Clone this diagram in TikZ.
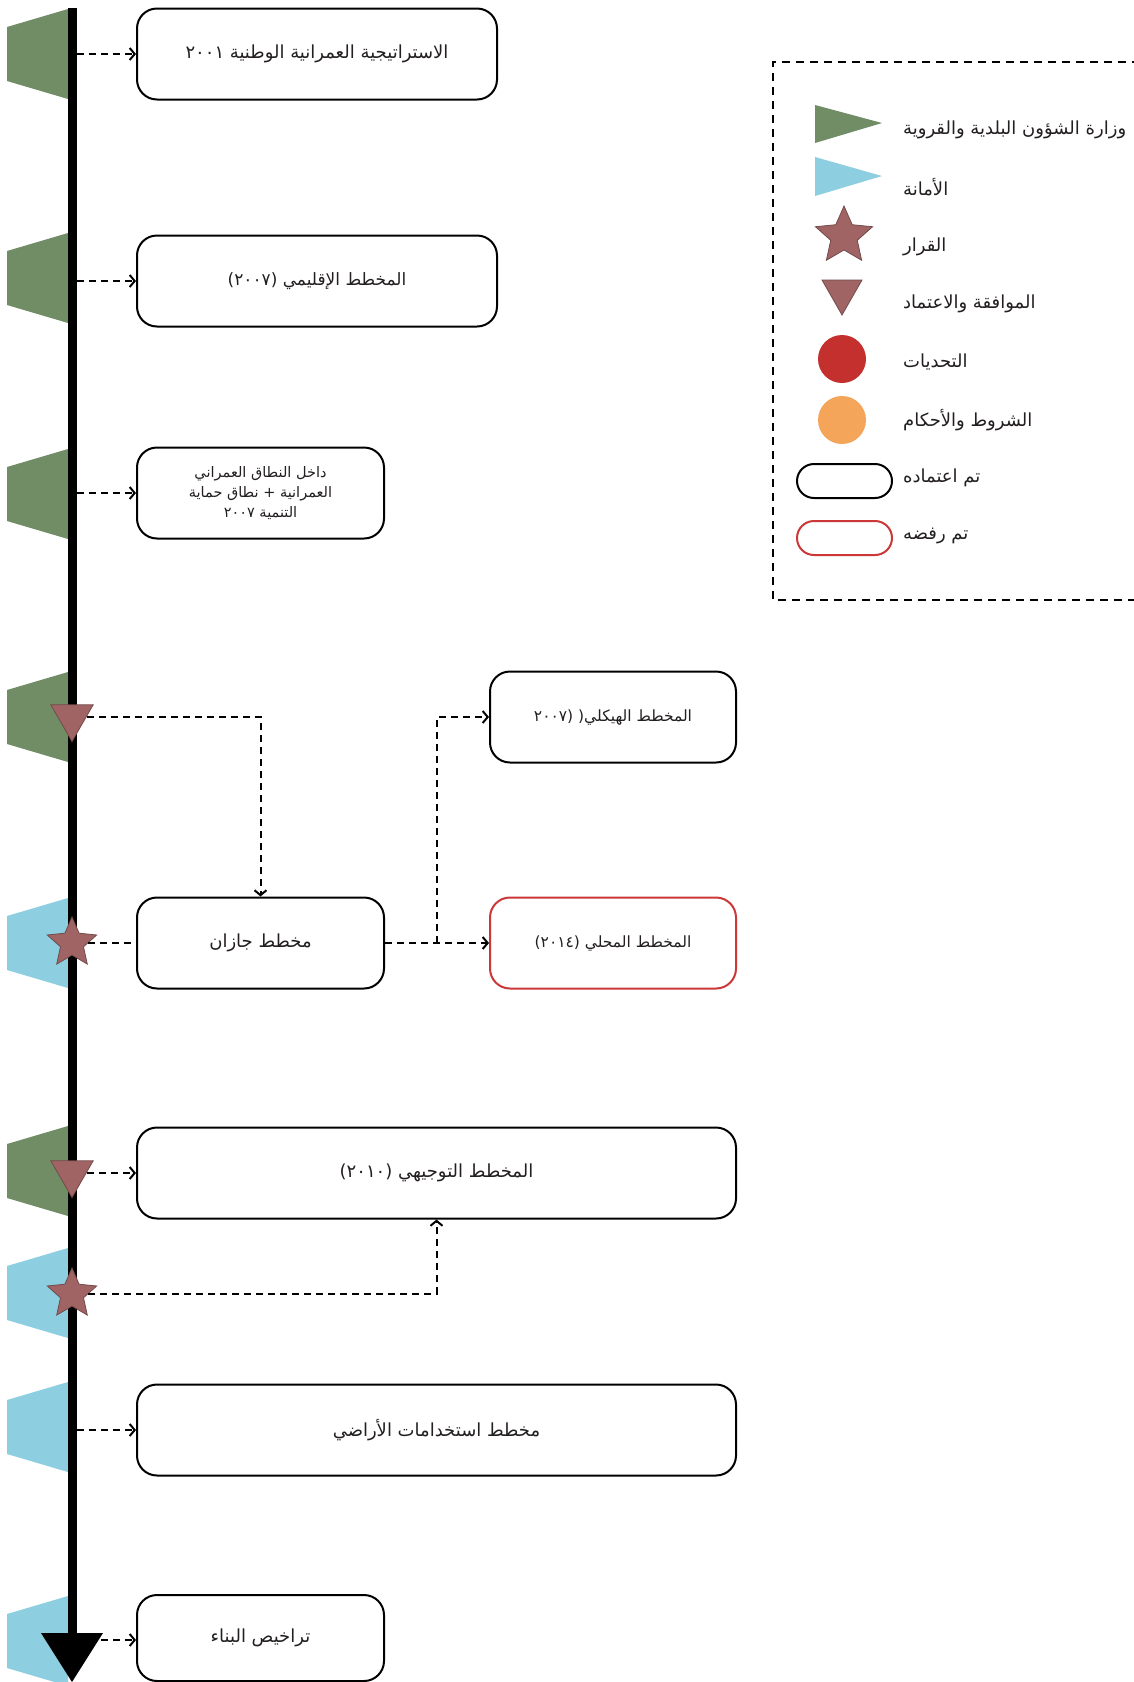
\documentclass[tikz,border=0pt]{standalone}
\usepackage{fontspec}
\usetikzlibrary{shapes.geometric,arrows.meta,calc}
\newfontfamily\arabicfont[Script=Arabic]{DejaVu Sans}
\TeXXeTstate=1
\definecolor{flaggreen}{RGB}{112,141,101}
\definecolor{flagblue}{RGB}{141,206,224}
\definecolor{markbrown}{RGB}{160,100,100}
\definecolor{markedge}{RGB}{115,75,75}
\definecolor{chalred}{RGB}{196,48,46}
\definecolor{condorange}{RGB}{245,165,90}
\definecolor{rejred}{RGB}{204,55,55}
\definecolor{txt}{RGB}{35,31,32}
\newcommand{\ar}[1]{{\arabicfont\beginR #1\endR}}
\newcommand{\ltr}[1]{\beginL #1\endL{}}
\begin{document}
\begin{tikzpicture}[x=1pt,y=-1pt,
  planbox/.style={draw=black, line width=2pt, rounded corners=20pt, fill=white,
    align=center, text=txt, font=\fontsize{18}{21}\selectfont, inner sep=4pt},
  rejbox/.style={planbox, draw=rejred},
  conn/.style={line width=2pt, dash pattern=on 7pt off 5pt,
    -{Straight Barb[length=5pt,width=12pt]}},
  dline/.style={line width=2pt, dash pattern=on 7pt off 5pt},
  downmark/.style={regular polygon, regular polygon sides=3, shape border rotate=180,
    fill=markbrown, draw=markedge, line width=0.8pt, minimum size=49pt, inner sep=0pt},
  starmark/.style={star, star points=5, star point ratio=2.15, fill=markbrown,
    draw=markedge, line width=0.8pt, minimum size=52pt, inner sep=0pt},
  legtext/.style={anchor=west, inner sep=0pt, text=txt, font=\fontsize{18}{22}\selectfont},
  legpill/.style={draw=black, line width=2pt, rounded corners=17pt, minimum width=95pt,
    minimum height=34pt, inner sep=0pt}
]
\useasboundingbox (0,0) rectangle (1133,1682);
\fill[white] (0,0) rectangle (1133,1682);

% flags
\foreach \c/\col in {54/flaggreen, 278/flaggreen, 494/flaggreen, 717/flaggreen,
  943/flagblue, 1171/flaggreen, 1293/flagblue, 1427/flagblue, 1641/flagblue}
  \fill[\col] (7,\c-27) -- (68,\c-45) -- (68,\c+45) -- (7,\c+27) -- cycle;

% timeline
\draw[line width=9pt] (72,8) -- (72,1636);
\fill (41,1633) -- (103,1633) -- (72,1682) -- cycle;

% boxes
\node[planbox, minimum width=360pt, minimum height=91pt] (B1) at (317,54)
  {\ar{الاستراتيجية العمرانية الوطنية \ltr{٢٠٠١}}};
\node[planbox, minimum width=360pt, minimum height=91pt, font=\fontsize{17}{20}\selectfont] (B2) at (317,281)
  {\ar{المخطط الإقليمي \ltr{(٢٠٠٧)}}};
\node[planbox, minimum width=247pt, minimum height=91pt, font=\fontsize{14.5}{20}\selectfont] (B3) at (260.5,493)
  {\ar{داخل النطاق العمراني}\\\ar{العمرانية + نطاق حماية}\\\ar{التنمية \ltr{٢٠٠٧}}};
\node[planbox, minimum width=246pt, minimum height=91pt, font=\fontsize{15.5}{19}\selectfont] (B4) at (613,717)
  {\ar{المخطط الهيكلي\ltr{(٢٠٠٧ (}}};
\node[planbox, minimum width=247pt, minimum height=91pt] (B5) at (260.5,943)
  {\ar{مخطط جازان}};
\node[rejbox, minimum width=246pt, minimum height=91pt, font=\fontsize{15.5}{19}\selectfont] (B6) at (613,943)
  {\ar{المخطط المحلي \ltr{(٢٠١٤)}}};
\node[planbox, minimum width=599pt, minimum height=91pt] (B7) at (436.5,1173)
  {\ar{المخطط التوجيهي \ltr{(٢٠١٠)}}};
\node[planbox, minimum width=599pt, minimum height=91pt] (B8) at (436.5,1430)
  {\ar{مخطط استخدامات الأراضي}};
\node[planbox, minimum width=247pt, minimum height=86pt] (B9) at (260.5,1638)
  {\ar{تراخيص البناء}};

% markers on the timeline
\node[downmark] (M4) at (72,717) {};
\node[starmark] (M5) at (72,943) {};
\node[downmark] (M6) at (72,1173) {};
\node[starmark] (M7) at (72,1294) {};

% timeline departure points
\coordinate (T1) at (77,54);
\coordinate (T2) at (77,281);
\coordinate (T3) at (77,493);
\coordinate (T8) at (77,1430);
\coordinate (T9) at (77,1640);
\coordinate (J) at ($(B5.east)!0.5!(B6.west)$);

% connectors
\draw[conn] (T1) -- (T1 -| B1.west);
\draw[conn] (T2) -- (T2 -| B2.west);
\draw[conn] (T3) -- (T3 -| B3.west);
\draw[conn] (M4) -| (B5.north);
\draw[dline] (M5) -- (B5.west);
\draw[conn] (B5.east) -- (B6.west);
\draw[conn] (J) |- (B4.west);
\draw[conn] (M6) -- (M6 -| B7.west);
\draw[conn] (M7) -| (B7.south);
\draw[conn] (T8) -- (T8 -| B8.west);
\draw[conn] (T9) -- (T9 -| B9.west);

% legend
\draw[line width=1.6pt, dash pattern=on 8pt off 6pt] (1140,62) -- (773,62) -- (773,600) -- (1140,600);
\fill[flaggreen] (815,105) -- (882,123) -- (815,143) -- cycle;
\fill[flagblue] (815,157) -- (882,176) -- (815,196) -- cycle;
\node[starmark, minimum size=60pt] (LS) at (844,236) {};
\fill[markbrown, draw=markedge, line width=0.8pt] (822,280) -- (862,280) -- (842,315) -- cycle;
\node[circle, fill=chalred, minimum size=48pt, inner sep=0pt] (LC1) at (842,359) {};
\node[circle, fill=condorange, minimum size=48pt, inner sep=0pt] (LC2) at (842,420) {};
\node[legpill] (LP1) at (844.5,481) {};
\node[legpill, draw=rejred] (LP2) at (844.5,538) {};

\node[legtext] (L1) at (903,130) {\ar{وزارة الشؤون البلدية والقروية}};
\node[legtext] (L2) at (903,187) {\ar{الأمانة}};
\node[legtext] (L3) at (903,247) {\ar{القرار}};
\node[legtext] (L4) at (903,304) {\ar{الموافقة والاعتماد}};
\node[legtext] (L5) at (903,362) {\ar{التحديات}};
\node[legtext] (L6) at (903,420) {\ar{الشروط والأحكام}};
\node[legtext] (L7) at (903,478) {\ar{تم اعتماده}};
\node[legtext] (L8) at (903,536) {\ar{تم رفضه}};
\end{tikzpicture}
\end{document}
